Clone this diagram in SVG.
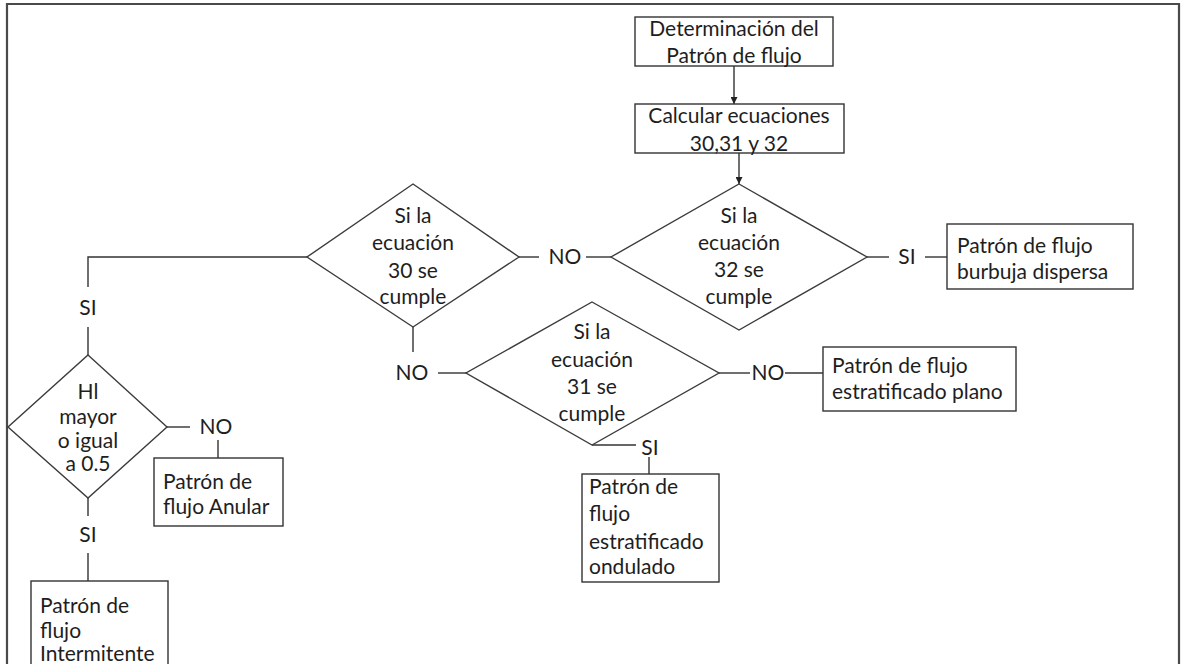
<svg xmlns="http://www.w3.org/2000/svg" width="1181" height="664" viewBox="0 0 1181 664">
  <style>
    .frame { fill: none; stroke: #4a4a4a; stroke-width: 2.2; }
    .box { fill: #ffffff; stroke: #333333; stroke-width: 1.4; }
    .dia { fill: #ffffff; stroke: #3c3c3c; stroke-width: 1.4; }
    .wire { fill: none; stroke: #333333; stroke-width: 1.4; }
    text { font-family: "Lato", "Liberation Sans", sans-serif; font-size: 21px; fill: #1e1e1e; }
    .c { text-anchor: middle; }
  </style>
  <defs>
    <marker id="arrow" viewBox="0 0 10 10" refX="10" refY="5" markerWidth="7" markerHeight="7" markerUnits="userSpaceOnUse" orient="auto">
      <path d="M0,0 L10,5 L0,10 z" fill="#222222"/>
    </marker>
  </defs>

  <rect x="0" y="0" width="1181" height="664" fill="#ffffff"/>
  <!-- page frame, bottom edge runs off the canvas -->
  <polyline class="frame" points="7,670 7,4 1179,4 1179,670"/>

  <!-- connectors -->
  <g id="connectors">
    <line class="wire" x1="734" y1="66" x2="734" y2="104" marker-end="url(#arrow)"/>
    <line class="wire" x1="739" y1="153" x2="739" y2="184" marker-end="url(#arrow)"/>
    <!-- eq 30 NO -> eq 32 -->
    <line class="wire" x1="519" y1="257" x2="539" y2="257"/>
    <text class="c" x="565" y="264">NO</text>
    <line class="wire" x1="586" y1="257" x2="611" y2="257"/>
    <!-- eq 32 SI -> burbuja -->
    <line class="wire" x1="867" y1="257" x2="889" y2="257"/>
    <text class="c" x="907" y="264">SI</text>
    <line class="wire" x1="925" y1="257" x2="947" y2="257"/>
    <!-- eq 30 left -> SI -> Hl -->
    <polyline class="wire" points="307,257 88,257 88,287"/>
    <text class="c" x="88" y="315">SI</text>
    <line class="wire" x1="88" y1="327" x2="88" y2="355"/>
    <!-- Hl NO -> Anular -->
    <line class="wire" x1="167" y1="427" x2="190" y2="427"/>
    <text class="c" x="216" y="434">NO</text>
    <line class="wire" x1="218" y1="440" x2="218" y2="458"/>
    <!-- Hl SI -> Intermitente -->
    <line class="wire" x1="88" y1="498" x2="88" y2="516"/>
    <text class="c" x="88" y="542">SI</text>
    <line class="wire" x1="88" y1="553" x2="88" y2="581"/>
    <!-- eq 30 bottom NO -> eq 31 -->
    <line class="wire" x1="413" y1="327" x2="413" y2="352"/>
    <text class="c" x="412" y="380">NO</text>
    <line class="wire" x1="438" y1="373" x2="466" y2="373"/>
    <!-- eq 31 NO -> plano -->
    <line class="wire" x1="719" y1="373" x2="750" y2="373"/>
    <text class="c" x="768" y="380">NO</text>
    <line class="wire" x1="785" y1="373" x2="823" y2="373"/>
    <!-- eq 31 SI -> ondulado -->
    <line class="wire" x1="592" y1="445" x2="636" y2="445"/>
    <text class="c" x="650" y="455">SI</text>
    <line class="wire" x1="649" y1="457" x2="649" y2="474"/>
  </g>

  <g id="start">
    <rect class="box" x="635" y="17" width="198" height="49"/>
    <text class="c" x="734" y="36">Determinación del</text>
    <text class="c" x="734" y="63">Patrón de flujo</text>
  </g>

  <g id="calc">
    <rect class="box" x="635" y="104" width="209" height="49"/>
    <text class="c" x="739" y="123">Calcular ecuaciones</text>
    <text class="c" x="739" y="151">30,31 y 32</text>
  </g>

  <g id="eq32">
    <polygon class="dia" points="739,184 867,257 739,330 611,257"/>
    <text class="c" x="739" y="223">Si la</text>
    <text class="c" x="739" y="250">ecuación</text>
    <text class="c" x="739" y="277">32 se</text>
    <text class="c" x="739" y="304">cumple</text>
  </g>

  <g id="eq30">
    <polygon class="dia" points="413,184 519,257 413,327 307,257"/>
    <text class="c" x="413" y="223">Si la</text>
    <text class="c" x="413" y="250">ecuación</text>
    <text class="c" x="413" y="278">30 se</text>
    <text class="c" x="413" y="304">cumple</text>
  </g>

  <g id="eq31">
    <polygon class="dia" points="592,302 719,373 592,445 466,373"/>
    <text class="c" x="592" y="339">Si la</text>
    <text class="c" x="592" y="367">ecuación</text>
    <text class="c" x="592" y="394">31 se</text>
    <text class="c" x="592" y="421">cumple</text>
  </g>

  <g id="hl">
    <polygon class="dia" points="88,355 167,427 88,498 8,427"/>
    <text class="c" x="88" y="399">Hl</text>
    <text class="c" x="88" y="424">mayor</text>
    <text class="c" x="88" y="448">o igual</text>
    <text class="c" x="88" y="471">a 0.5</text>
  </g>

  <g id="burbuja">
    <rect class="box" x="947" y="224" width="186" height="65"/>
    <text x="957" y="253">Patrón de flujo</text>
    <text x="957" y="279">burbuja dispersa</text>
  </g>

  <g id="plano">
    <rect class="box" x="823" y="347" width="193" height="64"/>
    <text x="832" y="373">Patrón de flujo</text>
    <text x="832" y="399">estratificado plano</text>
  </g>

  <g id="ondulado">
    <rect class="box" x="582" y="474" width="137" height="108"/>
    <text x="589" y="494">Patrón de</text>
    <text x="589" y="521">flujo</text>
    <text x="589" y="549">estratificado</text>
    <text x="589" y="574">ondulado</text>
  </g>

  <g id="anular">
    <rect class="box" x="154" y="458" width="129" height="68"/>
    <text x="163" y="489">Patrón de</text>
    <text x="163" y="514">flujo Anular</text>
  </g>

  <g id="intermitente">
    <rect class="box" x="31" y="581" width="137" height="90"/>
    <text x="40" y="613">Patrón de</text>
    <text x="40" y="638">flujo</text>
    <text x="40" y="661">Intermitente</text>
  </g>
</svg>
